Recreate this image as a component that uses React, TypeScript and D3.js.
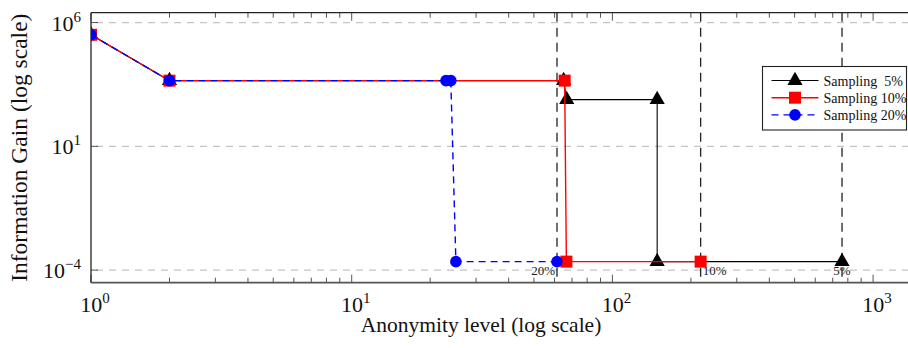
import React from 'react';
import * as d3 from 'd3';

// anonymity level (k) vs information gain, one series per sampling rate
const sampling5X = [1, 2, 65, 66.8, 148.5, 148.5, 760];
const sampling5Y = [3.2e5, 4.5e3, 4.5e3, 770, 770, 2.2e-4, 2.2e-4];
const sampling10X = [1, 2, 65.6, 66.6, 218];
const sampling10Y = [3.2e5, 4.5e3, 4.5e3, 2.2e-4, 2.2e-4];
const sampling20X = [1, 2, 23.0, 24.0, 25.1, 61.3];
const sampling20Y = [3.2e5, 4.5e3, 4.5e3, 4.5e3, 2.2e-4, 2.2e-4];

const thresholdK = [61.3, 218, 760];
const thresholdLabels = ['20%', '10%', '5%'];

const yTickValues = [1e-4, 1e1, 1e6];
const yTickExp = ['\u22124', '1', '6'];
const xTickExp = ['0', '1', '2', '3'];

const legendNames = ['Sampling  5%', 'Sampling 10%', 'Sampling 20%'];

const W = 908;
const H = 348;
const left = 91;
const top = 12.7;
const bottom = 282.7;
const decade = 260.7;

const FONT = '"Liberation Serif", "Times New Roman", serif';

type Mark = 'triangle' | 'square' | 'circle';

function marker(kind: Mark, cx: number, cy: number, color: string, key: string | number) {
  if (kind === 'square') {
    return <rect key={key} x={cx - 6} y={cy - 6} width={12} height={12} fill={color} />;
  }
  if (kind === 'circle') {
    return <circle key={key} cx={cx} cy={cy} r={5.8} fill={color} />;
  }
  const p = d3.symbol(d3.symbolTriangle, 100)();
  return <path key={key} d={p || ''} transform={`translate(${cx},${cy})`} fill={color} />;
}

export default function App() {
  const x = d3
    .scaleLog()
    .domain([1, 1700])
    .range([left, left + Math.log10(1700) * decade]);
  const y = d3.scaleLog().domain([3.1e-5, 2.5e6]).range([bottom, top]);

  const right = x.range()[1];

  const series = [
    { xs: sampling5X, ys: sampling5Y, color: '#000', width: 1.1, dash: undefined, mark: 'triangle' as Mark },
    { xs: sampling10X, ys: sampling10Y, color: '#ff0000', width: 1.4, dash: undefined, mark: 'square' as Mark },
    { xs: sampling20X, ys: sampling20Y, color: '#0000ff', width: 1.4, dash: '7,5', mark: 'circle' as Mark },
  ];

  const line = d3
    .line<[number, number]>()
    .x((d) => x(d[0]))
    .y((d) => y(d[1]));

  const allTicks = x.ticks(40).filter((t) => t >= 1 && t <= 1700);
  const isMajor = (t: number) => Math.abs(Math.log10(t) - Math.round(Math.log10(t))) < 1e-9;

  const legX = 762.5;
  const legY = 66.5;
  const legRowH = 17.2;

  return (
    <svg
      width={W}
      height={H}
      style={{ position: 'absolute', left: 0, top: 0, background: '#fff' }}
      fontFamily={FONT}
    >
      <defs>
        <clipPath id="plotclip">
          <rect x={left} y={top} width={right - left} height={bottom - top} />
        </clipPath>
      </defs>

      {/* horizontal grid */}
      {yTickValues.map((v, i) => (
        <line
          key={'g' + i}
          x1={left}
          x2={right}
          y1={y(v)}
          y2={y(v)}
          stroke="#c4c4c4"
          strokeWidth={1.2}
          strokeDasharray="7,6"
          strokeDashoffset={-5}
        />
      ))}

      {/* threshold lines */}
      {thresholdK.map((k, i) => (
        <line
          key={'t' + i}
          x1={x(k)}
          x2={x(k)}
          y1={top}
          y2={bottom}
          stroke="#222"
          strokeWidth={1.3}
          strokeDasharray="9,6"
        />
      ))}

      {/* x ticks, bottom and top, pointing inward */}
      {allTicks.map((t, i) => {
        const len = isMajor(t) ? 8 : 5;
        return (
          <g key={'xt' + i} stroke="#555" strokeWidth={1}>
            <line x1={x(t)} x2={x(t)} y1={bottom} y2={bottom - len} />
            <line x1={x(t)} x2={x(t)} y1={top} y2={top + len} />
          </g>
        );
      })}

      {/* y ticks */}
      {yTickValues.map((v, i) => (
        <line key={'yt' + i} x1={left} x2={left + 7} y1={y(v)} y2={y(v)} stroke="#555" strokeWidth={1} />
      ))}

      {/* series */}
      <g clipPath="url(#plotclip)">
        {series.map((s, si) => {
          const pts = s.xs.map((v, i) => [v, s.ys[i]] as [number, number]);
          return (
            <g key={'s' + si}>
              <path
                d={line(pts) || ''}
                fill="none"
                stroke={s.color}
                strokeWidth={s.width}
                strokeDasharray={s.dash}
              />
              {pts.map((p, i) => marker(s.mark, x(p[0]), y(p[1]), s.color, i))}
            </g>
          );
        })}
      </g>

      {/* threshold labels */}
      {thresholdK.map((k, i) => (
        <text
          key={'tl' + i}
          x={x(k) + (i === 0 ? -2 : i === 1 ? 2 : 0)}
          y={y(1e-4) + 4.5}
          fontSize={13}
          fill="#222"
          textAnchor={i === 0 ? 'end' : i === 1 ? 'start' : 'middle'}
        >
          {thresholdLabels[i]}
        </text>
      ))}

      {/* frame */}
      <line x1={left} x2={left} y1={top} y2={bottom} stroke="#222" strokeWidth={1.3} />
      <line x1={left} x2={right} y1={top} y2={top} stroke="#222" strokeWidth={1.3} />
      <line x1={left} x2={right} y1={bottom} y2={bottom} stroke="#555" strokeWidth={1.8} />

      {/* y tick labels */}
      {yTickValues.map((v, i) => (
        <text key={'yl' + i} x={81} y={y(v) + 8} fontSize={22} textAnchor="end" fill="#111">
          10
          <tspan fontSize={15} dy={-9}>
            {yTickExp[i]}
          </tspan>
        </text>
      ))}

      {/* x tick labels */}
      {allTicks.filter(isMajor).map((t, i) => (
        <text key={'xl' + i} x={x(t) + 4} y={311.5} fontSize={22} textAnchor="middle" fill="#111">
          10
          <tspan fontSize={15} dy={-9}>
            {xTickExp[i]}
          </tspan>
        </text>
      ))}

      {/* axis titles */}
      <text x={481} y={332} fontSize={21.5} textAnchor="middle" fill="#111">
        Anonymity level (log scale)
      </text>
      <text
        transform={`translate(27,${(top + bottom) / 2}) rotate(-90)`}
        fontSize={23.5}
        textAnchor="middle"
        fill="#111"
      >
        Information Gain (log scale)
      </text>

      {/* legend */}
      <rect x={legX} y={legY} width={906.5 - legX} height={130 - legY} fill="#fff" stroke="#222" strokeWidth={1.1} />
      {series.map((s, i) => {
        const cy = legY + 14 + i * legRowH;
        return (
          <g key={'lg' + i}>
            <line
              x1={legX + 9}
              x2={legX + 56}
              y1={cy}
              y2={cy}
              stroke={s.color}
              strokeWidth={s.width}
              strokeDasharray={s.dash}
            />
            {marker(s.mark, legX + 32.5, cy, s.color, 'm')}
            <text x={legX + 61} y={cy + 5} fontSize={14} fill="#111" xmlSpace="preserve">
              {legendNames[i]}
            </text>
          </g>
        );
      })}
    </svg>
  );
}
